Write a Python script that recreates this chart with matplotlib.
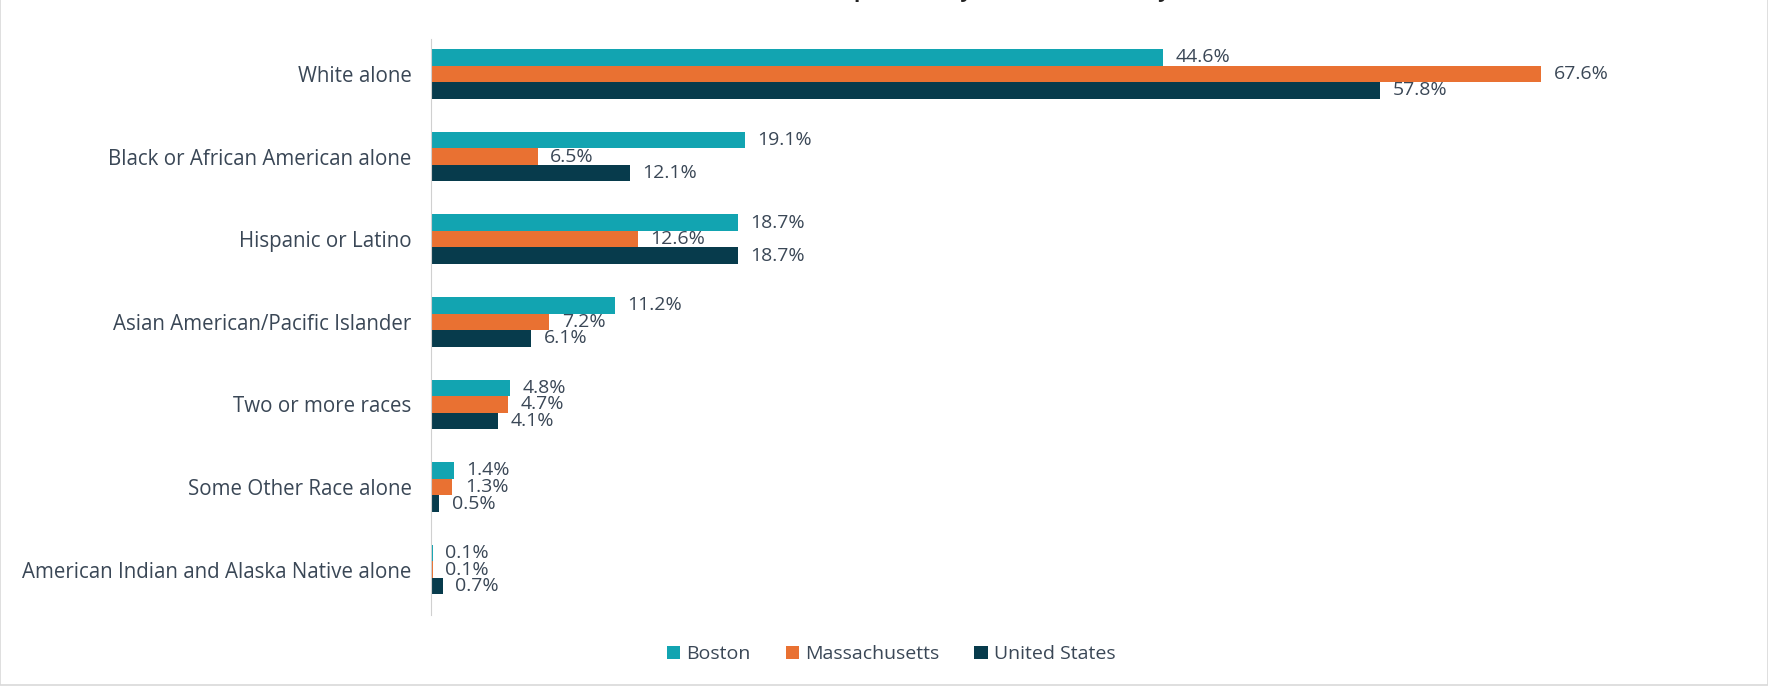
import numpy as np
import matplotlib

matplotlib.use("Agg")
import matplotlib.pyplot as plt  # noqa: E402
from matplotlib.patches import Rectangle  # noqa: E402

categories = [
    "White alone",
    "Black or African American alone",
    "Hispanic or Latino",
    "Asian American/Pacific Islander",
    "Two or more races",
    "Some Other Race alone",
    "American Indian and Alaska Native alone",
]
series_names = ["Boston", "Massachusetts", "United States"]
boston = [44.6, 19.1, 18.7, 11.2, 4.8, 1.4, 0.1]
massachusetts = [67.6, 6.5, 12.6, 7.2, 4.7, 1.3, 0.1]
united_states = [57.8, 12.1, 18.7, 6.1, 4.1, 0.5, 0.7]
colors = ["#12A4B1", "#E97132", "#073B4C"]
text_color = "#3A4756"

plt.rcParams["font.family"] = ["Open Sans", "DejaVu Sans"]

fig = plt.figure(figsize=(17.68, 6.88), dpi=100)
ax = fig.add_axes([0.2438, 0.106, 0.743, 0.837])

y = np.arange(len(categories))
bar_h = 0.2
for i, (name, vals) in enumerate(zip(series_names, [boston, massachusetts, united_states])):
    pos = y + (i - 1) * bar_h
    ax.barh(pos, vals, height=bar_h, color=colors[i], label=name)
    for p, v in zip(pos, vals):
        ax.annotate(f"{v:.1f}%", (v, p), xytext=(9, 0), textcoords="offset points",
                    va="center", ha="left", fontsize=14, color=text_color)

ax.set_xlim(0, 80)
ax.set_ylim(6.55, -0.42)
ax.set_yticks(y)
ax.set_yticklabels(categories, fontsize=14.8, color=text_color)
ax.tick_params(axis="y", length=0, pad=14)
ax.set_xticks([])
for s in ["top", "right", "bottom"]:
    ax.spines[s].set_visible(False)
ax.spines["left"].set_color("#D0D0D0")

fig.text(0.565, 1.012, "Population by Race and Ethnicity", ha="center", va="center",
         fontsize=15, fontweight="bold", color="#222222")

fig.legend(loc="center", bbox_to_anchor=(0.504, 0.049), ncol=3, frameon=False,
           fontsize=14, handlelength=0.7, handleheight=0.7, handletextpad=0.3,
           columnspacing=1.8, labelcolor=text_color)

fig.patches.append(Rectangle((0, 0.005), 1, 1.2, transform=fig.transFigure,
                             fill=False, edgecolor="#D9D9D9", linewidth=1.2))

fig.savefig("out.png", dpi=100)
